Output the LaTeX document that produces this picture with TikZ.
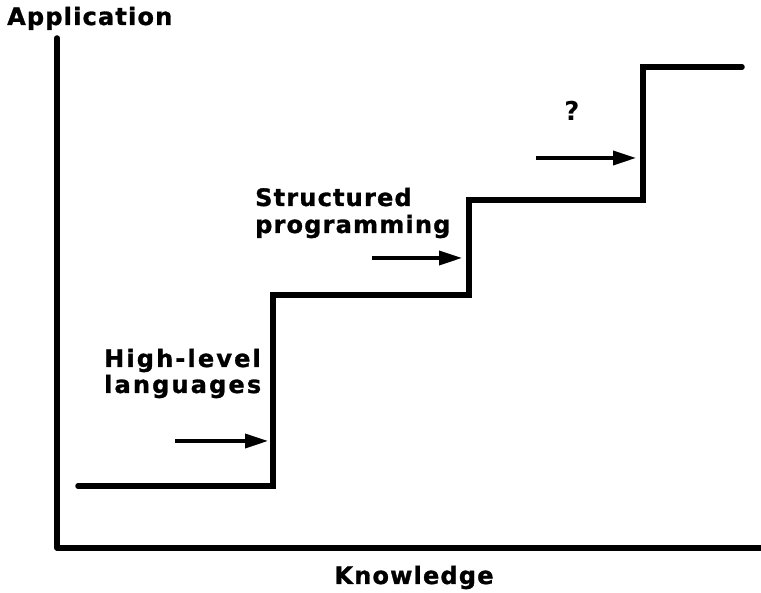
\documentclass[tikz,border=0pt]{standalone}
\usepackage{fontspec}
\setmainfont{DejaVu Sans}[BoldFont={DejaVu Sans Bold}]
\usetikzlibrary{arrows.meta}
\begin{document}
\begin{tikzpicture}[x=1pt,y=1pt,
  axis/.style={line width=5.5pt,line cap=round,line join=round},
  stair/.style={line width=5.5pt,line cap=round,line join=miter},
  push/.style={line width=3.5pt,-{Triangle[length=23pt,width=14pt]}},
  lbl/.style={inner sep=0pt,align=left,
    font=\fontsize{24}{27}\selectfont\bfseries\addfontfeatures{LetterSpace=5,FakeBold=1.2}}]
\useasboundingbox (0,0) rectangle (761,593);
% axes
\coordinate (ytop) at (57,555);
\coordinate (orig) at (57,45);
\coordinate (xend) at (762,45);
\draw[axis] (ytop) -- (orig) -- (xend);
% staircase
\coordinate (s0) at (78,107);
\coordinate (s1) at (273,107);
\coordinate (s2) at (273,298);
\coordinate (s3) at (469,298);
\coordinate (s4) at (469,393);
\coordinate (s5) at (643,393);
\coordinate (s6) at (643,526);
\coordinate (s7) at (742,526);
\draw[stair] (s0) -- (s1) -- (s2) -- (s3) -- (s4) -- (s5) -- (s6) -- (s7);
% arrows leading up to each riser
\coordinate (a1s) at (175,152); \coordinate (a1e) at (268,152);
\coordinate (a2s) at (372,335); \coordinate (a2e) at (462,335);
\coordinate (a3s) at (536,435); \coordinate (a3e) at (636,435);
\draw[push] (a1s) -- (a1e);
\draw[push] (a2s) -- (a2e);
\draw[push] (a3s) -- (a3e);
% labels (base anchor of a two-line node sits on its last line)
\node[lbl,anchor=base west] (app) at (7,568) {Application};
\node[lbl,anchor=base] (know) at (414,9) {Knowledge};
\node[lbl,anchor=base west,
  font=\fontsize{24}{26}\selectfont\bfseries\addfontfeatures{LetterSpace=9,FakeBold=1.2}]
  (hll) at (104,200) {High-level\\languages};
\node[lbl,anchor=base west] (sp) at (255,360) {Structured\\programming};
\node[lbl,anchor=base,font=\fontsize{26}{30}\selectfont\bfseries] (q) at (572,472) {?};
\end{tikzpicture}
\end{document}
